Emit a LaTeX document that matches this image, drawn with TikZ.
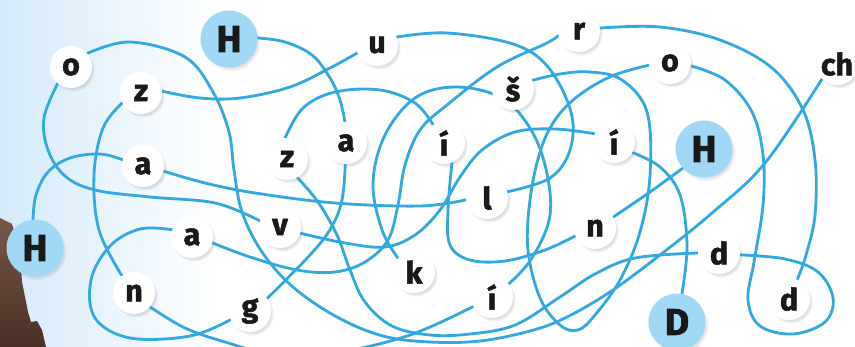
\documentclass[tikz,border=0pt]{standalone}
\usepackage{fontspec}
\setmainfont{Fira Sans}[BoldFeatures={FakeBold=1.6}]
\usetikzlibrary{shadows,fadings}
\definecolor{wireblue}{RGB}{52,168,224}
\definecolor{capblue}{RGB}{160,216,245}
\definecolor{haze}{RGB}{212,234,250}
\definecolor{rock}{RGB}{104,68,52}
\pgfdeclarelayer{back}
\pgfdeclarelayer{wires}
\pgfsetlayers{back,wires,main}
\tikzset{
  letter/.style={circle,fill=white,minimum size=12.6mm,inner sep=0pt,
    text=black!90,font=\fontsize{26}{26}\selectfont\bfseries,
    circular drop shadow={shadow xshift=.6mm,shadow yshift=-.8mm,shadow scale=1.04,opacity=.25}},
  capnode/.style={letter,fill=capblue,minimum size=17.1mm,
    font=\fontsize{32}{32}\selectfont\bfseries},
  wire/.style={draw=wireblue,line width=2.4pt,line cap=round}
}

\begin{document}
\begin{tikzpicture}[x=0.3mm,y=-0.3mm]
   \clip (0,0) rectangle (855,347);

   \begin{pgfonlayer}{back}
     \fill[white] (0,0) rectangle (855,347);
     \shade[left color=haze,right color=white] (0,0) rectangle (220,347);
     \shade[top color=rock!90,bottom color=rock!70!black]
       (0,218) -- (12,224) -- (20,250) -- (22,282) -- (28,312) -- (31,322)
       -- (37,321) -- (42,330) -- (46,347) -- (0,347) -- cycle;
   \end{pgfonlayer}

   % Haluznik
   \node[capnode] (H1) at (35,248) {H};
   \node[letter] (a1) at (143,166) {a};
   \node[letter] (l1) at (487,198) {l};
   \node[letter] (u1) at (377,45) {u};
   \node[letter] (z1) at (141,93) {z};
   \node[letter] (n1) at (134,293) {n};
   \node[letter] (i1) at (492,297) {í};
   \node[letter] (k1) at (414,272) {k};

   % Hagard
   \node[capnode] (H2) at (229,39) {H};
   \node[letter] (a2) at (346,143) {a};
   \node[letter] (g2) at (250,311) {g};
   \node[letter] (aa2) at (192,237) {a};
   \node[letter] (r2) at (579,31) {r};
   \node[letter] (d2) at (789,299) {d};

   % Hnizdos
   \node[capnode] (H3) at (704,149) {H};
   \node[letter] (n3) at (595,228) {n};
   \node[letter] (i3) at (444,143) {í};
   \node[letter] (z3) at (287,159) {z};
   \node[letter] (d3) at (719,253) {d};
   \node[letter] (o3) at (670,63) {o};
   \node[letter] (s3) at (513,89) {š};

   % Divoch
   \node[capnode] (D4) at (677,322) {D};
   \node[letter] (i4) at (614,142) {í};
   \node[letter] (v4) at (280,227) {v};
   \node[letter] (o4) at (71,67) {o};
   \node[letter] (ch4) at (837,64) {ch};

   \begin{pgfonlayer}{wires}
     \begin{scope}[smooth,tension=.6]
       \draw[wire] plot coordinates {(H1.94) (36,195) (48,172) (70,158) (100,154) (a1.163)};
       \draw[wire] plot coordinates {(a1.-14) (205,183) (255,193) (335,203) (420,206) (l1.185)};
       \draw[wire] plot coordinates {(l1.17) (550,178) (570,150) (571,112) (548,67) (513,44) (447,33) (u1.22)};
       \draw[wire] plot coordinates {(u1.202) (330,68) (290,87) (240,98) (200,98) (z1.5)};
       \draw[wire] plot coordinates {(z1.208) (103,128) (94,175) (99,230) (n1.125)};
       \draw[wire] plot coordinates {(n1.-41) (185,328) (225,342) (280,356) (340,352) (410,335) (i1.207)};
       \draw[wire] plot coordinates {(i1.38) (532,258) (550,215) (545,165) (528,125) (500,97) (455,87)
         (415,98) (385,135) (373,183) (382,230) (k1.139)};

       \draw[wire] plot coordinates {(H2.2) (285,42) (312,55) (330,78) (340,100) (a2.93)};
       \draw[wire] plot coordinates {(a2.268) (342,200) (331,228) (310,255) (g2.36)};
       \draw[wire] plot coordinates {(g2.204) (190,336) (130,338) (95,318) (91,280) (110,246) (140,229) (aa2.160)};
       \draw[wire] plot coordinates {(aa2.-16) (250,257) (297,270) (335,272) (365,262) (388,240) (398,205)
         (405,165) (420,130) (447,105) (497,67) (547,43) (r2.192)};
       \draw[wire] plot coordinates {(r2.8) (660,27) (720,40) (772,68) (803,110) (815,160) (815,215) (806,255) (d2.67)};

       \draw[wire] plot coordinates {(H3.222) (650,192) (n3.31)};
       \draw[wire] plot coordinates {(n3.202) (545,250) (505,261) (470,260) (450,245) (448,210) (i3.292)};
       \draw[wire] plot coordinates {(i3.121) (415,103) (380,90) (335,92) (303,108) (z3.95)};
       \draw[wire] plot coordinates {(z3.299) (318,202) (337,235) (350,270) (365,302) (392,326) (430,335)
         (470,334) (515,325) (560,297) (595,274) (635,258) (d3.180)};
       \draw[wire] plot coordinates {(d3.355) (785,259) (818,272) (833,298) (825,322) (793,334) (760,326)
         (748,300) (754,262) (763,205) (763,155) (752,112) (725,80) (o3.352)};
       \draw[wire] plot coordinates {(o3.186) (612,76) (578,96) (555,120) (540,152) (530,200) (528,250)
         (540,298) (560,325) (578,330) (595,315) (620,280) (640,232) (650,175) (647,112) (622,80)
         (590,72) (560,74) (s3.24)};

       \draw[wire] plot coordinates {(D4.80) (687,245) (680,195) (660,167) (i4.-30)};
       \draw[wire] plot coordinates {(i4.157) (555,129) (515,132) (482,150) (460,177) (440,210) (415,235)
         (385,247) (345,243) (v4.-17)};
       \draw[wire] plot coordinates {(v4.163) (215,203) (150,197) (95,190) (65,176) (48,150) (44,118) (o4.231)};
       \draw[wire] plot coordinates {(o4.40) (130,42) (185,57) (213,92) (229,132) (234,170) (242,212)
         (262,252) (293,287) (337,317) (383,336) (430,342) (480,341) (530,331) (565,318) (610,292)
         (660,255) (712,213) (765,163) (ch4.225)};
     \end{scope}
   \end{pgfonlayer}
\end{tikzpicture}
\end{document}
